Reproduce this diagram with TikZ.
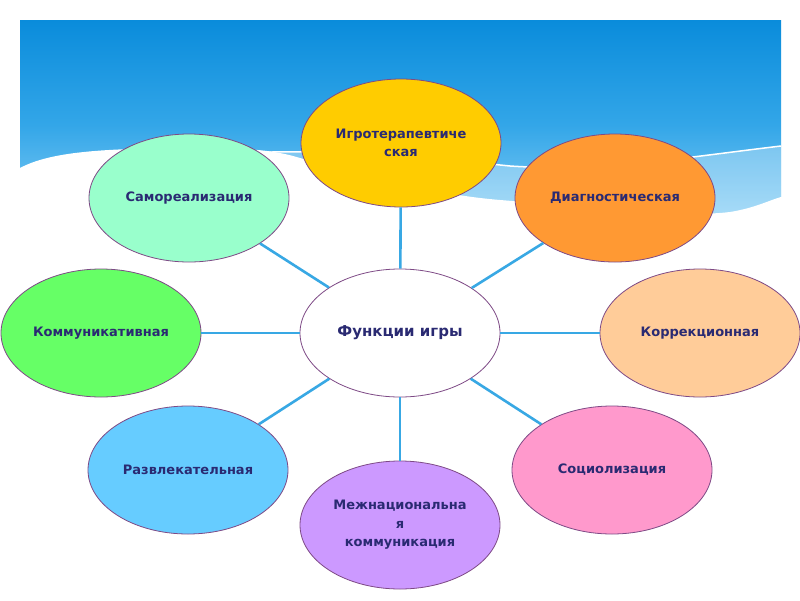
\documentclass[tikz,border=0pt]{standalone}
\usepackage{fontspec}
\setmainfont{DejaVu Sans}
\usetikzlibrary{shapes.geometric}
\definecolor{txt}{HTML}{2A2A72}
\definecolor{edge}{HTML}{7E4A86}
\definecolor{conn}{HTML}{38A8E4}
\definecolor{skytop}{HTML}{0A8CDB}
\definecolor{skymid}{HTML}{33A6E8}
\definecolor{skybot}{HTML}{8ED2F7}
\definecolor{cYel}{HTML}{FFCC00}
\definecolor{cMint}{HTML}{99FFCC}
\definecolor{cOrg}{HTML}{FF9933}
\definecolor{cGrn}{HTML}{66FF66}
\definecolor{cPch}{HTML}{FFCC99}
\definecolor{cBlu}{HTML}{66CCFF}
\definecolor{cPnk}{HTML}{FF99CC}
\definecolor{cVio}{HTML}{CC99FF}
\tikzset{
  bubble/.style={ellipse, draw=edge, line width=0.8pt, minimum width=200pt, minimum height=128pt,
    inner sep=0pt, align=center, text=txt, font=\bfseries\fontsize{13}{18.5}\selectfont},
  hub/.style={bubble, fill=white, font=\bfseries\fontsize{15}{18}\selectfont},
  link/.style={draw=conn, line width=2.6pt}
}
\begin{document}
\begin{tikzpicture}[x=1pt,y=-1pt]
\useasboundingbox (0,0) rectangle (800,600);
\fill[white] (0,0) rectangle (800,600);
% sky
\shade[top color=skytop, bottom color=skybot, middle color=skymid] (20,20) rectangle (781,230);
\fill[white, opacity=0.3] (240,153) .. controls (350,148) and (450,160) .. (510,166)
   .. controls (600,172) and (680,158) .. (781,146) -- (781,240) -- (240,240) -- cycle;
\draw[white, line width=1.5pt] (240,153) .. controls (350,148) and (450,160) .. (510,166)
   .. controls (600,172) and (680,158) .. (781,146);
\fill[white] (20,168) .. controls (50,152) and (100,148) .. (200,148)
   .. controls (260,148) and (280,152) .. (300,158)
   .. controls (380,180) and (440,195) .. (500,200)
   .. controls (600,208) and (680,218) .. (730,212)
   .. controls (755,208) and (770,200) .. (781,197) -- (785,197) -- (785,240) -- (18,240) -- (18,168) -- cycle;
% nodes
\node[hub] (c) at (400,333) {Функции игры};
\node[bubble, fill=cYel] (t) at (401,143) {Игротерапевтиче\\ская};
\node[bubble, fill=cMint] (sr) at (189,198) {Самореализация};
\node[bubble, fill=cOrg] (d) at (615,198) {Диагностическая};
\node[bubble, fill=cGrn] (k) at (101,333) {Коммуникативная};
\node[bubble, fill=cPch] (kr) at (700,333) {Коррекционная};
\node[bubble, fill=cBlu] (r) at (188,470) {Развлекательная};
\node[bubble, fill=cPnk] (s) at (612,470) {Социолизация};
\node[bubble, fill=cVio] (m) at (400,525) {Межнациональна\\я\\коммуникация};
% connectors
\foreach \n in {t,sr,d,k,kr,r,s,m} \draw[link] (c) -- (\n);
\end{tikzpicture}
\end{document}
